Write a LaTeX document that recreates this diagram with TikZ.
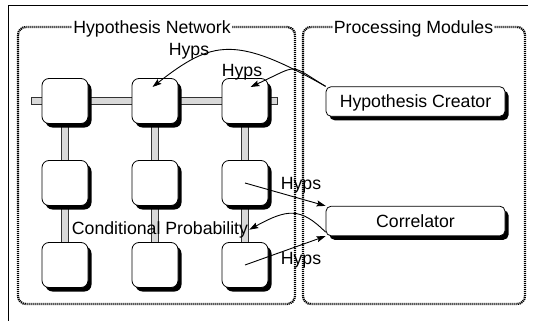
\documentclass[tikz,border=0pt]{standalone}
\usepackage{fontspec}
\setmainfont{Liberation Sans}
\usetikzlibrary{arrows.meta,positioning,shadows,backgrounds}
\tikzset{>/.tip={Stealth[length=9pt,width=6pt,inset=1.5pt]}}
\tikzset{shade/.style={drop shadow={shadow xshift=3.5pt,shadow yshift=-4pt,fill=black,opacity=1}}}
\tikzset{cell/.style={draw,fill=white,rounded corners=7pt,line width=0.8pt,
    minimum width=46pt,minimum height=45pt,shade}}
\tikzset{module/.style={draw,fill=white,rounded corners=5pt,line width=0.8pt,
    minimum width=179pt,minimum height=29.5pt,text height=12.7pt,text depth=0pt,shade}}
\tikzset{group/.style={line width=2.2pt,dash pattern=on 1.2pt off 0.8pt,rounded corners=8pt}}
\tikzset{bar/.style={draw=black!80,fill=black!15,line width=0.6pt}}
\tikzset{lbl/.style={anchor=base,inner sep=0pt}}

\begin{document}
\begin{tikzpicture}[x=1pt,y=-1pt,node distance=82pt and 90pt,on grid,
    font=\fontsize{17.7pt}{20pt}\selectfont]
  \useasboundingbox (0,0) rectangle (533,321);
  % frame and groups
  \draw[line width=0.9pt] (8,321) -- (8,5) -- (528,5);
  \draw[group] (18,27) rectangle (295,304);
  \draw[group] (303,27) rectangle (525,304);
  \node(net)[lbl,fill=white,inner sep=1pt] at (152,33.3) {Hypothesis Network};
  \node(mods)[lbl,fill=white,inner sep=1pt] at (413.5,33.3) {Processing Modules};
  % network
  \node(n11)[cell] at (65,101) {};
  \node(n12)[cell,right=of n11] {};
  \node(n13)[cell,right=of n12] {};
  \node(n21)[cell,below=of n11] {};
  \node(n22)[cell,below=of n12] {};
  \node(n23)[cell,below=of n13] {};
  \node(n31)[cell,below=of n21] {};
  \node(n32)[cell,below=of n22] {};
  \node(n33)[cell,below=of n23] {};
  \begin{scope}[on background layer]
    \draw[bar] ([xshift=-10.7pt,yshift=3.5pt]n11.west) rectangle ([xshift=9.2pt,yshift=-3.5pt]n13.east);
    \foreach \c in {1,2,3}
      \draw[bar] ([xshift=-3.5pt]n1\c.south) rectangle ([xshift=3.5pt]n3\c.north);
  \end{scope}
  % modules
  \node(hc)[module] at (415.5,101.5) {Hypothesis Creator};
  \node(cor)[module,below=119.5pt of hc] {Correlator};
  % labels
  \node(h1)[lbl] at (189,56) {Hyps};
  \node(h2)[lbl] at (242,76.7) {Hyps};
  \node(h3)[lbl] at (301,189.3) {Hyps};
  \node(h4)[lbl] at (301,264.5) {Hyps};
  \node(cp)[lbl] at (160,234.3) {Conditional Probability};
  % connectors
  \draw[->,line width=0.9pt]
    (hc.north west) .. controls +(-90,-51) and +(60,-47) .. ([xshift=-2.5pt,yshift=14pt]n12.center);
  \draw[->,line width=0.9pt]
    (hc.north west) .. controls +(-38,-23) and +(50,-23) .. ([xshift=5.5pt,yshift=14pt]n13.center);
  \draw[->,line width=0.9pt] (n23.center) -- (cor.north west);
  \draw[->,line width=0.9pt] (n33.center) -- (cor.south west);
  \draw[->,line width=0.9pt]
    ([yshift=4pt]cor.south west) .. controls +(-25,-25) and +(38,-21) .. ([xshift=1pt]cp.east);
\end{tikzpicture}
\end{document}
